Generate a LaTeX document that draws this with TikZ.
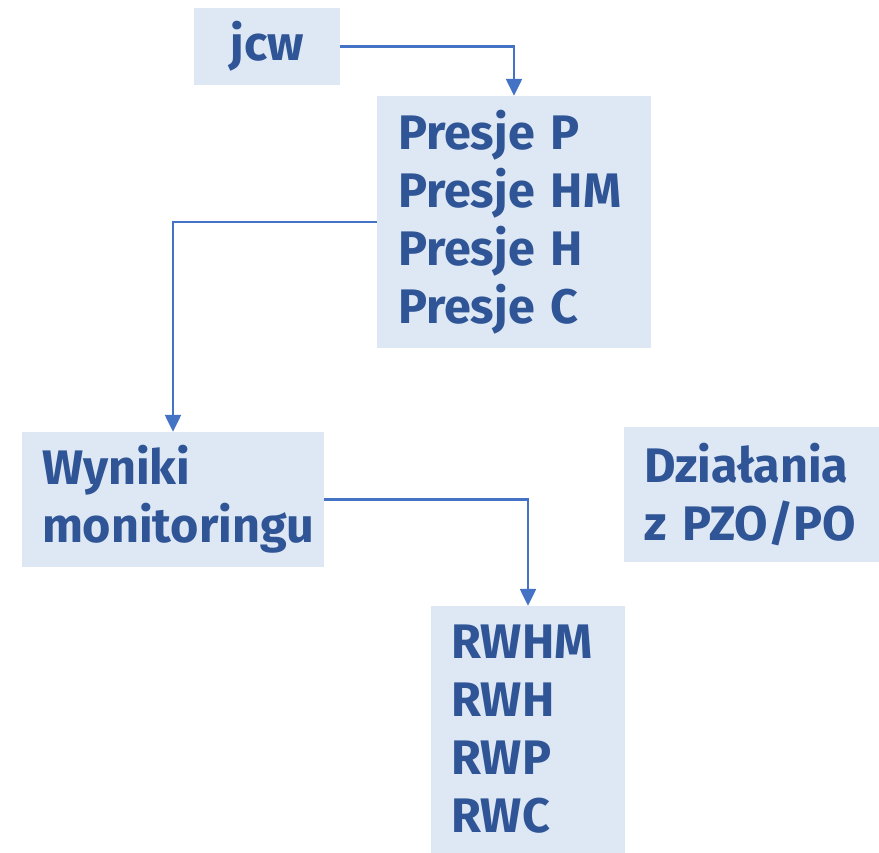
\documentclass[tikz,border=0pt]{standalone}
\usepackage{fontspec}
\setmainfont{Fira Sans}
\usetikzlibrary{arrows.meta}
\definecolor{boxfill}{HTML}{DEE8F4}
\definecolor{txtblue}{HTML}{2F5597}
\definecolor{linkblue}{HTML}{4472C4}
\tikzset{
  box/.style={rectangle, fill=boxfill, inner ysep=0pt, align=left, text=txtblue,
    font=\fontsize{48.5}{58}\selectfont\bfseries},
  link/.style={draw=linkblue, line width=2.4pt, -{Triangle[width=16pt,length=17pt]}}
}
\begin{document}
\begin{tikzpicture}[x=1pt,y=-1pt]
\useasboundingbox (0,0) rectangle (879,853);
\node[box, align=center, minimum width=146pt, minimum height=77pt, inner xsep=0pt] (jcw) at (267,46.5) {jcw};
\node[box, minimum width=274pt, minimum height=252pt, inner xsep=21pt, text width=232pt] (presje) at (514,222) {Presje P\\Presje HM\\Presje H\\Presje C};
\node[box, minimum width=302pt, minimum height=135pt, inner xsep=20pt, text width=262pt] (wyniki) at (173,499.5) {Wyniki\\monitoringu};
\node[box, minimum width=255pt, minimum height=135pt, inner xsep=20pt, text width=215pt] (dzialania) at (751.5,494.5) {Działania\\z~PZO/PO};
\node[box, minimum width=194pt, minimum height=247pt, inner xsep=20pt, text width=154pt] (rw) at (528,729.5) {RWHM\\RWH\\RWP\\RWC};
\draw[link] (jcw.east) -| (presje.north);
\draw[link] (presje.west) -| (wyniki.north);
\draw[link] (wyniki.east) -| (rw.north);
\end{tikzpicture}
\end{document}
